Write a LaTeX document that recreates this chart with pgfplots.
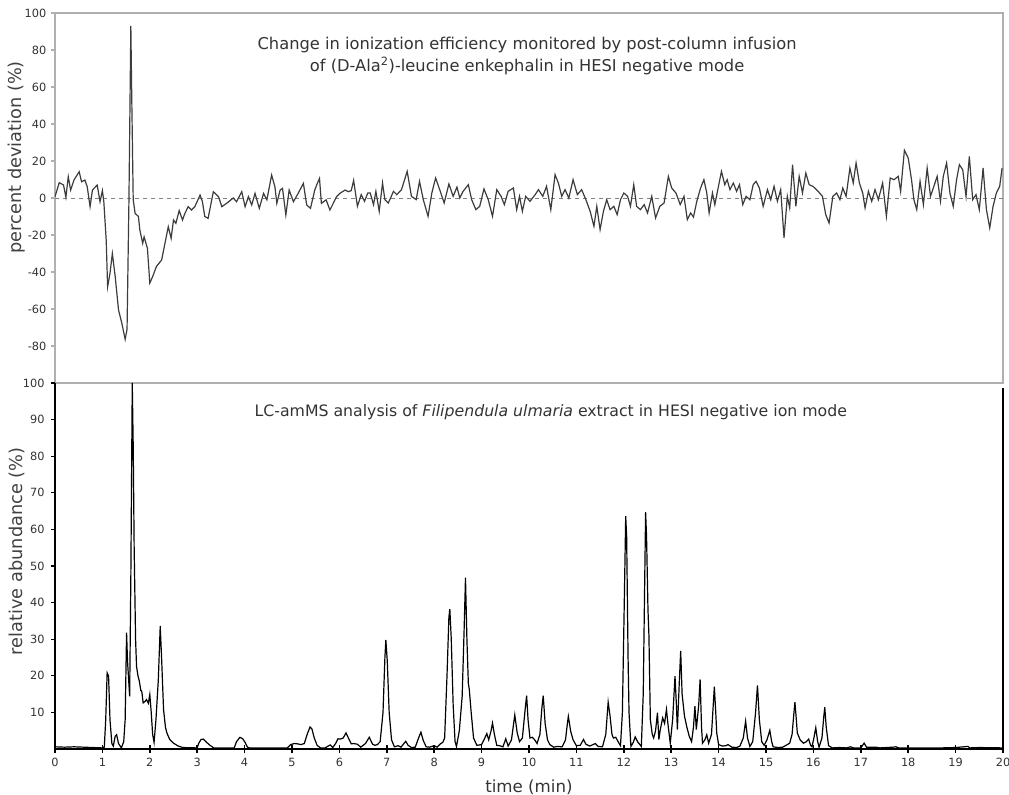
\documentclass[border=0pt]{standalone}
\usepackage{fontspec}
\setmainfont{DejaVu Sans}
\usepackage{pgfplots}
\pgfplotsset{compat=1.18}
\definecolor{framegray}{HTML}{B0B0B0}
\definecolor{tracegray}{HTML}{3C3C3C}
\begin{document}
\begin{tikzpicture}
\useasboundingbox (0,0) rectangle (756.75pt,596.25pt);
% ---------- top axis ----------
\begin{axis}[at={(41.25pt,309pt)}, anchor=south west, scale only axis,
  width=711pt, height=277.5pt,
  xmin=0, xmax=20, ymin=-100, ymax=100,
  xtick=\empty, ytick={-80,-60,...,100},
  axis line style={framegray, line width=1.2pt},
  ytick pos=left,
  ytick style={framegray, line width=0.8pt}, tick align=outside, major tick length=3pt,
  /pgf/number format/assume math mode=true,
  tick label style={font=\fontsize{8.5}{10}\selectfont, text=black!80},
  ylabel={percent deviation (\%)},
  ylabel style={font=\fontsize{13.3}{15}\selectfont, text=black!75, at={(axis description cs:-0.040,0.61)}, anchor=center},
  clip=true]
\addplot[gray, dashed, line width=0.6pt] coordinates {(0,0) (20,0)};
\addplot[tracegray, line width=0.9pt] coordinates {
(0.00,0.7)(0.09,8.3)(0.18,7)(0.23,0.4)(0.28,11.5)(0.33,4.3)(0.40,9.7)(0.51,14.2)(0.56,8.8)(0.63,9.7)(0.68,6.1)(0.74,-4.7)(0.79,4.3)(0.89,7)(0.95,-2)(1.00,4)(1.03,-2)(1.08,-22.7)(1.11,-48)(1.16,-40.7)(1.21,-30)(1.27,-42.5)(1.34,-60.5)(1.41,-67.7)(1.48,-76.4)(1.52,-71)(1.56,-1)(1.60,93)(1.62,53)(1.65,-1)(1.69,-8.3)(1.76,-10)(1.79,-17.3)(1.85,-24.5)(1.88,-21)(1.95,-27.2)(2.00,-46)(2.06,-42.5)(2.14,-37)(2.25,-33.5)(2.32,-24.5)(2.39,-15.5)(2.45,-21.8)(2.50,-11.9)(2.55,-13.7)(2.62,-6.8)(2.69,-11.9)(2.74,-8.3)(2.81,-4.7)(2.88,-6.5)(2.95,-4.7)(3.06,1.6)(3.11,-2)(3.16,-10)(3.23,-11)(3.34,3.4)(3.45,0.7)(3.52,-4.7)(3.62,-2.9)(3.76,0)(3.83,-2)(3.94,3.4)(4.01,-4.7)(4.08,0.7)(4.15,-3.8)(4.22,2.5)(4.31,-5.6)(4.40,2.5)(4.47,-1)(4.57,12.4)(4.64,6)(4.68,-2.9)(4.75,4.3)(4.80,5.2)(4.87,-9.2)(4.94,4.3)(5.03,-2)(5.13,2.5)(5.24,7.9)(5.31,-3.8)(5.39,-5.6)(5.48,4.3)(5.52,7)(5.58,10.6)(5.62,-2.9)(5.72,-1)(5.80,-6.5)(5.87,-2.9)(5.94,0.7)(6.01,2.5)(6.12,4.3)(6.19,3.4)(6.25,4)(6.30,9.5)(6.38,-4.5)(6.46,1.8)(6.53,-1.8)(6.60,2.7)
(6.65,2.7)(6.72,-3.6)(6.77,3.6)(6.84,-7.2)(6.91,8.1)(6.96,-0.9)(7.03,-2.7)(7.08,0)(7.14,3.6)(7.21,1.8)(7.31,4.5)(7.43,14.4)(7.52,0.9)(7.62,-0.9)(7.69,9)(7.77,-0.9)(7.87,-9.9)(7.95,2.7)(8.03,10.8)(8.14,2.7)(8.21,-2.7)(8.31,7.6)(8.40,0.9)(8.48,5.9)(8.54,0)(8.61,3.6)(8.72,7.2)(8.79,-0.9)(8.88,-6.3)(8.96,-4.5)(9.05,4.9)(9.14,-0.9)(9.23,-9.9)(9.32,4.5)(9.41,0.9)(9.48,-3.6)(9.56,3.6)(9.67,5.4)(9.74,-6.3)(9.80,0.9)(9.86,-7.2)(9.93,0.9)(10.02,-1.8)(10.13,1.8)(10.20,4.5)(10.29,0.9)(10.37,6.3)(10.46,-6.3)(10.55,12.6)(10.62,8.1)(10.69,0.9)(10.76,4.5)(10.84,0)(10.93,9.9)(11.02,1.8)(11.11,4.5)(11.20,-0.9)(11.29,-7.2)(11.37,-15.3)(11.43,-4.5)(11.50,-17.1)(11.57,-7.2)(11.64,-0.9)(11.71,-6.3)(11.79,-4.5)(11.86,-9)(11.93,-0.9)(12.00,2.7)(12.08,0.9)(12.14,-4.5)(12.21,7.2)(12.27,-4.5)(12.35,-6.3)(12.43,-3.6)(12.50,-8.1)(12.59,0.9)(12.67,-10.8)(12.76,-4.5)(12.85,-2.7)(12.94,11.7)(13.01,5.4)(13.10,2.7)(13.19,-3.6)(13.27,0.9)(13.34,-11.7)(13.41,-8.1)(13.47,-10.3)(13.54,-1.8)
(13.62,5.4)(13.69,9.9)(13.75,2.7)(13.80,-8.1)(13.87,2.7)(13.92,-3.6)(13.99,5.4)(14.06,14.4)(14.13,7.2)(14.18,9.9)(14.24,4.5)(14.31,8.1)(14.38,3.6)(14.44,7.2)(14.51,-3.6)(14.58,0.9)(14.66,-0.9)(14.73,7.2)(14.79,9)(14.86,5.4)(14.94,-4.5)(15.03,4.5)(15.10,-0.9)(15.17,6.3)(15.24,-1.8)(15.31,4.5)(15.38,-21.6)(15.45,0.9)(15.50,-5.4)(15.56,18)(15.63,-4.5)(15.70,11.7)(15.77,2.7)(15.84,13.5)(15.91,7.2)(15.99,6.3)(16.10,3.6)(16.19,0.9)(16.26,-9)(16.33,-13.5)(16.41,0.9)(16.49,2.7)(16.56,-0.9)(16.62,5.4)(16.69,0.9)(16.77,16.2)(16.84,8.1)(16.90,18.9)(16.97,8.1)(17.04,2.7)(17.09,-5.4)(17.16,3.6)(17.23,-1.8)(17.30,4.5)(17.37,-0.9)(17.46,8.1)(17.54,-9.9)(17.62,10.8)(17.70,9.9)(17.79,11.7)(17.84,3.6)(17.92,25.8)(18.00,21.6)(18.07,9.9)(18.12,-0.9)(18.18,-6.3)(18.25,9)(18.32,-3.6)(18.40,16.2)(18.47,0.9)(18.53,5.4)(18.61,11.7)(18.68,-1.8)(18.74,11.7)(18.81,18.9)(18.88,2.7)(18.95,-4.5)(19.02,9.9)(19.08,18)(19.15,15.3)(19.22,0.9)(19.29,22.5)(19.36,-0.9)(19.43,1.8)(19.50,-6.3)(19.58,16.2)(19.65,-6.3)(19.72,-16.2)(19.79,-4.5)(19.86,2.7)(19.93,6.3)(19.98,16.2)
};
\node[align=center, font=\fontsize{12.2}{16.5}\selectfont, text=black!80, anchor=center] at (axis description cs:0.498,0.883)
  {Change in ionization efficiency monitored by post-column infusion\\ of (D-Ala\textsuperscript{2})-leucine enkephalin in HESI negative mode};
\end{axis}
% ---------- bottom axis ----------
\begin{axis}[at={(41.25pt,34.5pt)}, anchor=south west, scale only axis,
  width=711pt, height=274.5pt,
  xmin=0, xmax=20, ymin=0, ymax=100,
  xtick={0,1,...,20}, ytick={10,20,...,100},
  xtick pos=bottom, ytick pos=left,
  axis line style={draw=none},
  xtick style={black, line width=1.2pt}, x tick style={/pgfplots/major tick length=6pt},
  ytick style={black, line width=0.8pt, /pgfplots/major tick length=3pt},
  xtick align=center, ytick align=outside,
  /pgf/number format/assume math mode=true,
  tick label style={font=\fontsize{8.5}{10}\selectfont, text=black!80},
  xticklabel style={yshift=-1.5pt},
  xlabel={time (min)},
  xlabel style={font=\fontsize{12.5}{14}\selectfont, text=black!80, at={(axis description cs:0.5,-0.105)}, anchor=center},
  ylabel={relative abundance (\%)},
  ylabel style={font=\fontsize{13.3}{15}\selectfont, text=black!75, at={(axis description cs:-0.040,0.54)}, anchor=center},
  clip=false]
\draw[black, line width=1.6pt] (rel axis cs:0,1) -- (rel axis cs:0,0) -- (rel axis cs:1,0) -- (rel axis cs:1,0.985);
\addplot[black, line width=0.9pt] coordinates {
(0,0.6)(0.2,0.5)(0.4,0.6)(0.6,0.5)(0.8,0.4)(1.0,0.3)(1.04,0.5)(1.07,8)(1.10,20.8)(1.13,20)(1.16,8)(1.20,1.5)(1.23,0.8)(1.27,3.5)(1.30,3.9)(1.34,1.5)(1.40,0.3)(1.45,2)(1.48,8)(1.51,31.8)(1.53,24)(1.575,14.4)(1.60,47)(1.63,100)(1.65,83)(1.67,55)(1.70,30)(1.72,22.6)(1.75,20)(1.78,18.5)(1.81,16)(1.83,15.8)(1.86,12.6)(1.90,13)(1.93,13.5)(1.97,12.5)(2.00,14.9)(2.03,10)(2.06,4)(2.09,1.8)(2.13,8)(2.18,19)(2.22,33.6)(2.25,24.5)(2.29,10.8)(2.33,6)(2.36,4.4)(2.42,2.6)(2.50,1.6)(2.60,0.8)(2.70,0.4)(3.00,0.3)(3.03,1.5)(3.08,2.6)(3.13,2.7)(3.20,1.8)(3.27,1.0)(3.35,0.3)(3.78,0.3)(3.83,2)(3.90,3.2)(3.96,2.8)(4.01,1.8)(4.06,0.5)(4.10,0.3)(4.90,0.3)(4.97,1.2)(5.05,1.5)(5.12,1.4)(5.19,1.2)(5.26,1.5)(5.32,4)(5.38,6.0)(5.42,5.5)(5.47,3)(5.53,1)(5.60,0.3)(5.70,0.3)(5.76,0.8)(5.81,1.1)(5.86,0.4)(5.92,1.5)(5.97,2.8)(6.02,2.7)(6.08,3)(6.14,4.4)(6.19,3)(6.25,1.4)(6.30,1.5)(6.38,1.3)(6.45,0.5)(6.55,1.5)(6.63,3.2)(6.70,1.3)(6.75,1.0)(6.80,1.2)(6.86,2)(6.92,10)(6.96,25)(6.98,29.8)(7.01,24)(7.05,10)(7.10,2.5)(7.16,0.6)(7.24,0.9)(7.30,0.5)(7.36,1.5)(7.40,2.1)(7.45,1.0)(7.52,0.4)(7.60,0.5)(7.67,3)(7.72,4.6)(7.77,2.3)(7.83,0.6)(7.90,0.5)(8.00,0.9)(8.06,0.5)(8.14,1.5)(8.18,1.8)(8.22,3)(8.27,20)(8.31,36)(8.33,38.2)(8.36,30)(8.40,12)(8.44,2)(8.47,0.7)(8.53,5)(8.59,14.4)(8.63,32)(8.66,46.8)(8.69,30)(8.72,18)(8.74,16.3)(8.78,10)(8.83,3)(8.90,1.0)(9.00,1.2)(9.05,2.5)(9.11,4.2)(9.15,2.5)(9.20,5)(9.23,7.1)(9.27,4)(9.32,1.0)(9.38,0.9)(9.45,0.6)(9.51,2.8)(9.56,0.8)(9.63,2.5)(9.70,9.3)(9.75,4.5)(9.80,2.0)(9.86,3)(9.92,11)(9.95,14.6)(9.98,8)(10.02,3)(10.07,3.2)(10.12,2.5)(10.17,1.5)(10.23,4)(10.27,11)(10.30,14.6)(10.34,7)(10.39,2.5)(10.44,1.2)(10.52,0.5)(10.60,0.7)(10.70,0.6)(10.77,2.5)(10.81,7)(10.83,8.9)(10.88,4.8)(10.93,2.5)(11.00,0.9)(11.08,1.0)(11.15,2.6)(11.20,1.3)(11.28,0.8)(11.35,1.2)(11.40,1.5)(11.46,0.7)(11.55,0.6)(11.62,4)(11.67,12.8)(11.71,9)(11.75,4)(11.78,3)(11.83,3.2)(11.88,2.0)(11.93,0.9)(11.97,9.9)(12.01,40)(12.04,63.6)(12.06,58)(12.09,25)(12.11,10)(12.15,0.7)(12.20,1.8)(12.24,3.3)(12.29,2)(12.37,0.7)(12.41,15)(12.44,45)(12.46,64.7)(12.48,58)(12.51,38)(12.53,31)(12.56,8)(12.60,4)(12.63,3)(12.67,5)(12.71,9.9)(12.74,2.6)(12.77,5.3)(12.82,8.5)(12.86,7)(12.90,10.8)(12.93,7)(12.98,1.6)(13.03,8)(13.08,19.9)(13.11,12)(13.13,5.3)(13.17,18)(13.20,26.8)(13.23,15)(13.28,9)(13.33,6)(13.38,3.5)(13.43,2)(13.47,6)(13.50,11.7)(13.53,5.3)(13.58,12)(13.61,19)(13.64,6)(13.66,1.6)(13.71,2.5)(13.75,3.9)(13.79,1.6)(13.85,4)(13.91,17)(13.94,10)(13.96,4.4)(14.00,1.2)(14.08,0.8)(14.15,0.9)(14.20,1.2)(14.28,0.5)(14.38,0.4)(14.45,0.8)(14.52,3)(14.57,7.6)(14.61,3)(14.66,0.7)(14.72,2)(14.78,10)(14.82,17.4)(14.86,8)(14.91,2.0)(14.96,1.0)(15.02,2.5)(15.08,5.1)(15.12,2)(15.15,0.6)(15.25,0.4)(15.35,0.5)(15.45,1.2)(15.50,1.6)(15.55,4)(15.59,10)(15.61,12.8)(15.64,8)(15.66,4.4)(15.72,2.5)(15.79,1.6)(15.85,2)(15.90,2.7)(15.94,1)(15.97,0.6)(16.01,3)(16.05,5.8)(16.09,2)(16.12,0.5)(16.18,3)(16.22,9)(16.24,11.4)(16.27,6)(16.32,0.9)(16.40,0.3)(16.55,0.4)(16.70,0.3)(16.78,0.6)(16.85,0.3)(17.00,0.3)(17.07,1.6)(17.12,0.5)(17.32,0.5)(17.40,0.3)(17.68,0.5)(17.74,0.6)(17.80,0.3)(18.20,0.3)(18.40,0.3)(18.70,0.3)(19.00,0.4)(19.26,0.7)(19.30,0.3)(19.50,0.4)(20.00,0.3)
};
\node[font=\fontsize{11.8}{14}\selectfont, text=black!80, anchor=center] at (axis description cs:0.523,0.92)
  {LC-amMS analysis of \textit{Filipendula ulmaria} extract in HESI negative ion mode};
\end{axis}
\end{tikzpicture}
\end{document}
